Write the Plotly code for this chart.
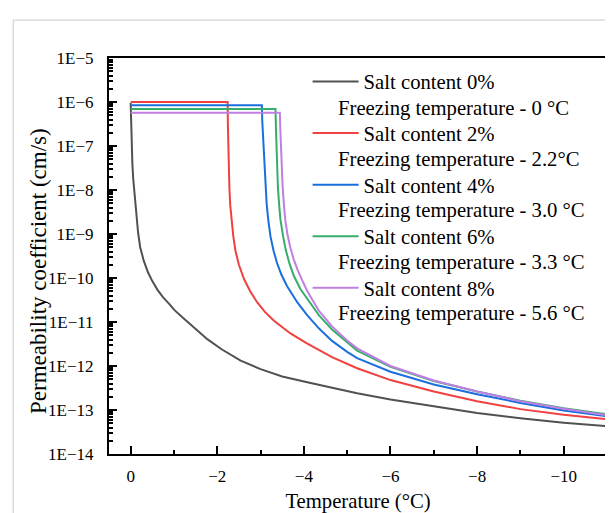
import plotly.graph_objects as go

# ---------------- data ----------------
names = ["Salt content 0%", "Salt content 2%", "Salt content 4%",
         "Salt content 6%", "Salt content 8%"]
freeze_labels = ["Freezing temperature - 0 °C", "Freezing temperature - 2.2°C",
                 "Freezing temperature - 3.0 °C", "Freezing temperature - 3.3 °C",
                 "Freezing temperature - 5.6 °C"]
colors = ["#515151", "#F14040", "#1A6FDF", "#37AD6B", "#C07FE3"]

# temperature (°C) and log10 of permeability coefficient (cm/s)
t_0 = [0, -0.01, -0.02, -0.04, -0.06, -0.08, -0.10, -0.13, -0.17, -0.22, -0.30, -0.40,
       -0.50, -0.62, -0.75, -0.90, -1.0, -1.2, -1.4, -1.77, -2.1, -2.54, -3.0, -3.31,
       -3.5, -4.08, -4.65, -5.23, -6.0, -7.0, -8.0, -9.0, -10.0, -11.0]
lk_0 = [-6.02, -6.6, -6.9, -7.4, -7.75, -8.0, -8.25, -8.6, -8.95, -9.3, -9.6, -9.87,
        -10.07, -10.27, -10.44, -10.6, -10.72, -10.9, -11.07, -11.39, -11.62, -11.88, -12.07, -12.18,
        -12.24, -12.37, -12.5, -12.62, -12.76, -12.92, -13.07, -13.19, -13.29, -13.37]

t_2 = [0, -2.24, -2.245, -2.255, -2.265, -2.28, -2.30, -2.33, -2.37, -2.42, -2.50, -2.62,
       -2.76, -2.92, -3.1, -3.31, -3.5, -3.69, -4.08, -4.65, -5.23, -6.0, -7.0, -8.0,
       -9.0, -10.0, -11.0]
lk_2 = [-6.0, -6.0, -6.5, -7.0, -7.4, -7.95, -8.35, -8.72, -9.05, -9.38, -9.7, -10.03,
        -10.3, -10.55, -10.77, -10.97, -11.12, -11.26, -11.49, -11.8, -12.05, -12.32, -12.58, -12.8,
        -12.98, -13.11, -13.21]

t_4 = [0, -3.03, -3.04, -3.06, -3.09, -3.115, -3.14, -3.18, -3.23, -3.30, -3.38, -3.48,
       -3.61, -3.85, -4.08, -4.35, -4.65, -5.0, -5.23, -6.0, -7.0, -8.0, -9.0, -10.0, -11.0]
lk_4 = [-6.075, -6.075, -6.45, -6.85, -7.56, -7.95, -8.31, -8.7, -9.06, -9.38, -9.66, -9.92,
        -10.18, -10.555, -10.85, -11.15, -11.43, -11.68, -11.82, -12.13, -12.42, -12.64, -12.84,
        -13.01, -13.14]

t_6 = [0, -3.345, -3.355, -3.37, -3.385, -3.40, -3.43, -3.46, -3.52, -3.58, -3.67, -3.77,
       -3.92, -4.08, -4.35, -4.65, -5.0, -5.23, -6.0, -7.0, -8.0, -9.0, -10.0, -11.0]
lk_6 = [-6.157, -6.157, -6.6, -7.18, -7.6, -7.93, -8.35, -8.68, -9.05, -9.355, -9.68, -9.955,
        -10.25, -10.48, -10.85, -11.17, -11.47, -11.65, -12.02, -12.34, -12.58, -12.79, -12.96, -13.1]

t_8 = [0, -3.445, -3.455, -3.47, -3.48, -3.495, -3.51, -3.54, -3.57, -3.62, -3.68, -3.76,
       -3.85, -3.96, -4.08, -4.35, -4.65, -5.0, -5.23, -6.0, -7.0, -8.0, -9.0, -10.0, -11.0]
lk_8 = [-6.247, -6.247, -6.6, -7.0, -7.18, -7.6, -7.93, -8.35, -8.68, -9.0, -9.28, -9.56,
        -9.805, -10.05, -10.3, -10.75, -11.1, -11.42, -11.6, -12.0, -12.33, -12.58, -12.8, -12.97,
        -13.12]

series_t = [t_0, t_2, t_4, t_6, t_8]
series_lk = [lk_0, lk_2, lk_4, lk_6, lk_8]

y_tickvals = [1e-5, 1e-6, 1e-7, 1e-8, 1e-9, 1e-10, 1e-11, 1e-12, 1e-13, 1e-14]
y_ticktext = ["1E\u22125", "1E\u22126", "1E\u22127", "1E\u22128", "1E\u22129",
              "1E\u221210", "1E\u221211", "1E\u221212", "1E\u221213", "1E\u221214"]

FONT = "Liberation Serif, Times New Roman, serif"

fig = go.Figure()
for i in range(5):
    fig.add_trace(go.Scatter(
        x=series_t[i], y=[10 ** v for v in series_lk[i]], mode="lines", name=names[i],
        line=dict(color=colors[i], width=2),
        legendgroup="g%d" % i,
    ))

W, H = 613, 513
L, R, T, B = 101, 13, 50, 63
pw, ph = W - L - R, H - T - B

def px_x(p):
    return (p - L) / pw

def px_y(p):
    return (H - B - p) / ph

# freezing temperature lines of the legend
row0, dy = 75.5, 25.8
for i, txt in enumerate(freeze_labels):
    fig.add_annotation(x=px_x(328), y=px_y(row0 + dy * (2 * i + 1)),
                       xref="paper", yref="paper", text=txt, showarrow=False,
                       xanchor="left", yanchor="middle",
                       font=dict(family=FONT, size=20.7, color="#000"))

# y axis title
fig.add_annotation(x=px_x(31), y=px_y(265), xref="paper", yref="paper",
                   text="Permeability coefficient (cm/s)", textangle=-90,
                   showarrow=False, xanchor="center", yanchor="middle",
                   font=dict(family=FONT, size=23, color="#000"))

# light grey outer frame
fig.add_shape(type="rect", xref="paper", yref="paper",
              x0=px_x(5), x1=px_x(640), y0=px_y(540), y1=px_y(11.7),
              line=dict(color="#c8c8c8", width=1), layer="below")

fig.update_layout(
    width=W, height=H,
    margin=dict(l=L, r=R, t=T, b=B),
    paper_bgcolor="white", plot_bgcolor="white",
    font=dict(family=FONT, color="#000", size=17),
    showlegend=True,
    legend=dict(x=px_x(300), y=px_y(53.5), xanchor="left", yanchor="top",
                bgcolor="rgba(0,0,0,0)", font=dict(family=FONT, size=20.7),
                traceorder="grouped", tracegroupgap=21.7, itemwidth=46),
    xaxis=dict(range=[0.5, -11.0], showgrid=False, zeroline=False,
               showline=True, linecolor="#000", linewidth=2, mirror=True,
               ticks="inside", ticklen=8, tickwidth=2, tickcolor="#000",
               tick0=0, dtick=2, tickfont=dict(size=17), ticklabelstandoff=6,
               minor=dict(ticks="inside", ticklen=4, tickwidth=2, dtick=1, tick0=0,
                          tickcolor="#000", showgrid=False),
               title=dict(text="Temperature (°C)", font=dict(size=20.7), standoff=8)),
    yaxis=dict(type="log", range=[-14, -5], showgrid=False, zeroline=False,
               showline=True, linecolor="#000", linewidth=2, mirror=True,
               ticks="inside", ticklen=8, tickwidth=2, tickcolor="#000",
               tickvals=y_tickvals, ticktext=y_ticktext, tickfont=dict(size=17),
               ticklabelstandoff=10,
               minor=dict(ticks="inside", ticklen=4, tickwidth=1.5, dtick="D1",
                          tickcolor="#000", showgrid=False)),
)

fig.write_html("out.html")
